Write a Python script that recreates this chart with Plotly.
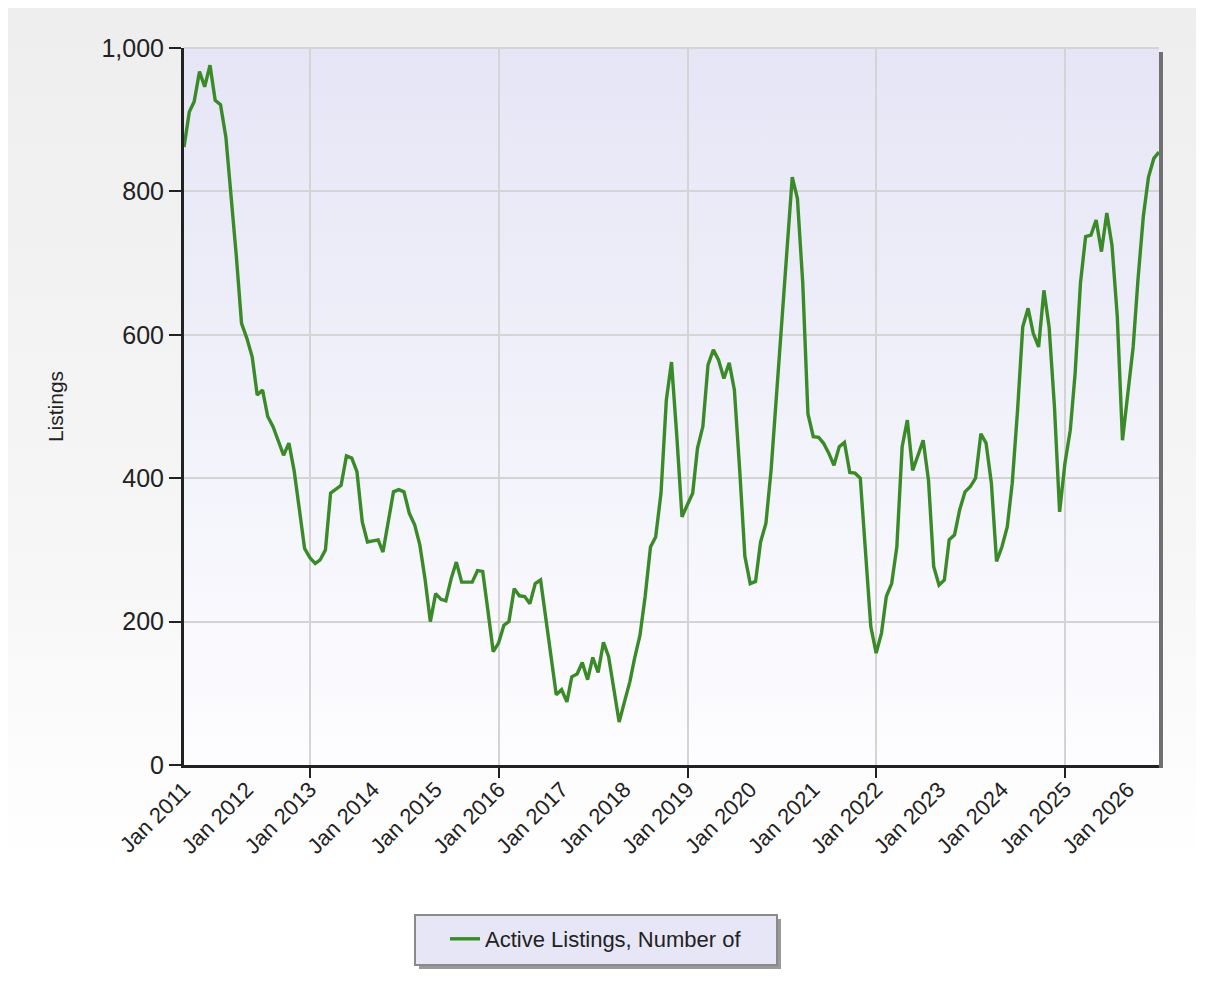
import base64
import pandas as pd
import plotly.graph_objects as go

# Monthly active listings, Jan 2011 - Jul 2026
listings_2011 = [862, 911, 925, 967, 946, 976, 927, 921, 876, 797, 709, 616]
listings_2012 = [595, 569, 516, 523, 486, 472, 453, 432, 449, 411, 356, 302]
listings_2013 = [289, 281, 286, 300, 379, 384, 390, 431, 428, 409, 339, 311]
listings_2014 = [312, 314, 297, 337, 381, 384, 381, 351, 335, 307, 258, 200]
listings_2015 = [239, 231, 229, 260, 283, 255, 255, 255, 271, 270, 214, 158]
listings_2016 = [170, 195, 200, 246, 236, 235, 225, 253, 258, 206, 150, 98]
listings_2017 = [105, 88, 123, 127, 143, 119, 150, 129, 171, 151, 105, 60]
listings_2018 = [88, 116, 149, 181, 235, 304, 318, 379, 509, 562, 458, 346]
listings_2019 = [363, 379, 442, 472, 558, 579, 565, 539, 561, 523, 411, 291]
listings_2020 = [253, 256, 311, 337, 411, 514, 618, 732, 820, 790, 672, 490]
listings_2021 = [458, 457, 449, 435, 418, 444, 450, 408, 407, 400, 300, 193]
listings_2022 = [156, 184, 235, 253, 304, 444, 481, 411, 432, 453, 397, 277]
listings_2023 = [251, 258, 314, 321, 356, 381, 388, 400, 462, 449, 393, 284]
listings_2024 = [304, 332, 393, 495, 611, 637, 602, 583, 662, 611, 500, 353]
listings_2025 = [421, 467, 546, 672, 737, 739, 760, 716, 770, 725, 625, 453]
listings_2026 = [518, 583, 677, 765, 820, 846, 855]

series_name = "Active Listings, Number of"
y_title = "Listings"

values = (listings_2011 + listings_2012 + listings_2013 + listings_2014 +
          listings_2015 + listings_2016 + listings_2017 + listings_2018 +
          listings_2019 + listings_2020 + listings_2021 + listings_2022 +
          listings_2023 + listings_2024 + listings_2025 + listings_2026)
dates = pd.date_range("2011-01-01", periods=len(values), freq="MS")

FONT = "Liberation Sans"


def svg_gradient(stops):
    stop_xml = "".join(
        f'<stop offset="{o}" stop-color="{c}"/>' for o, c in stops)
    svg = ('<svg xmlns="http://www.w3.org/2000/svg" width="100" height="100" '
           'preserveAspectRatio="none">'
           '<defs><linearGradient id="g" x1="0" y1="0" x2="0" y2="1">'
           f'{stop_xml}</linearGradient></defs>'
           '<rect width="100" height="100" fill="url(#g)"/></svg>')
    return "data:image/svg+xml;base64," + base64.b64encode(svg.encode()).decode()


paper_grad = svg_gradient([(0, "#eeeeee"), (0.55, "#f6f6f6"), (0.88, "#ffffff"), (1, "#ffffff")])
plot_grad = svg_gradient([(0, "#e5e5f6"), (1, "#fdfdff")])

# page offset (browser body margin) and plot-area box in screen pixels
OFF = 8
W, H = 1212 - OFF, 986 - OFF
L, R, T, B = 184, 1159, 48, 765
pw, ph = R - L, B - T


def px(xp):
    return (xp - L) / pw


def py(yp):
    return (B - yp) / ph


fig = go.Figure()
fig.add_trace(go.Scatter(
    x=dates, y=values, mode="lines", name=series_name,
    line=dict(color="#3a8b28", width=3.4),
))

fig.update_layout(
    width=W, height=H,
    margin=dict(l=L - OFF, r=1212 - R, t=T - OFF, b=986 - B),
    paper_bgcolor="#ffffff",
    plot_bgcolor="rgba(0,0,0,0)",
    font=dict(family=FONT, size=22, color="#222222"),
    showlegend=True,
    legend=dict(
        orientation="h", x=px(445), xanchor="left", y=py(918), yanchor="top",
        bgcolor="rgba(0,0,0,0)", borderwidth=0,
        font=dict(family=FONT, size=22, color="#222222"),
    ),
    xaxis=dict(
        type="date", range=[dates[0], dates[-1]],
        tick0="2011-01-01", dtick="M12", tickformat="%b %Y", tickangle=-45,
        ticks="", showgrid=False,
        tickfont=dict(family=FONT, size=22, color="#222222"),
        minor=dict(tick0="2010-01-02", dtick="M36", ticks="outside",
                   ticklen=10, tickwidth=2, tickcolor="#222222",
                   showgrid=True, gridcolor="#d4d4d4", gridwidth=2),
        showline=True, linecolor="#222222", linewidth=3,
        zeroline=False,
    ),
    yaxis=dict(
        range=[0, 1000], tick0=0, dtick=200, tickformat=",",
        ticks="outside", ticklen=12, tickwidth=2, tickcolor="#222222",
        showgrid=True, gridcolor="#d4d4d4", gridwidth=2,
        showline=True, linecolor="#222222", linewidth=3, zeroline=False,
        tickfont=dict(family=FONT, size=25, color="#222222"),
        title=dict(text=y_title, font=dict(family=FONT, size=21, color="#222222"),
                   standoff=33),
    ),
    images=[
        dict(source=paper_grad, xref="paper", yref="paper",
             x=px(OFF), y=py(OFF), sizex=(1196 - OFF) / pw, sizey=(986 - OFF) / ph,
             xanchor="left", yanchor="top", sizing="stretch", layer="below"),
        dict(source=plot_grad, xref="x domain", yref="y domain",
             x=0, y=1, sizex=1, sizey=1,
             xanchor="left", yanchor="top", sizing="stretch", layer="below"),
    ],
    shapes=[
        # right-edge shadow of the plot area
        dict(type="rect", xref="paper", yref="paper", layer="above",
             x0=1.0, x1=px(R + 4), y0=py(B + 3), y1=py(T + 4),
             fillcolor="#707070", line=dict(width=0)),
        # top edge of plot area
        dict(type="line", xref="paper", yref="paper", layer="above",
             x0=0, x1=1, y0=1, y1=1, line=dict(color="#d4d4d4", width=2)),
        # legend box shadow and box
        dict(type="rect", xref="paper", yref="paper", layer="below",
             x0=px(419), x1=px(781), y0=py(969), y1=py(919),
             fillcolor="#9a9a9a", line=dict(width=0)),
        dict(type="rect", xref="paper", yref="paper", layer="below",
             x0=px(415), x1=px(777), y0=py(965), y1=py(915),
             fillcolor="#e6e6f6", line=dict(color="#8a8a8a", width=2)),
    ],
)

fig.write_html("out.html")
